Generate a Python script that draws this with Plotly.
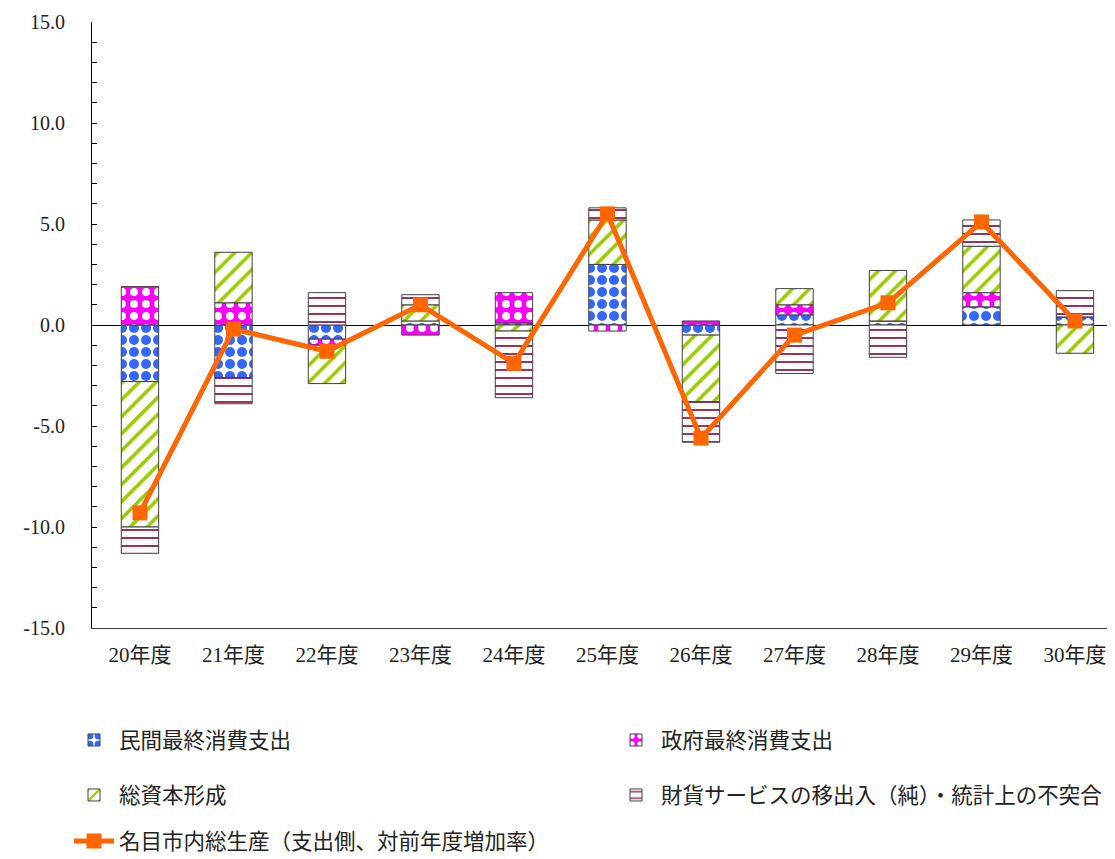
import plotly.graph_objects as go

categories = ["20年度", "21年度", "22年度", "23年度", "24年度", "25年度",
              "26年度", "27年度", "28年度", "29年度", "30年度"]
private_consumption = [-2.8, -2.6, -0.7, 0.2, 0.1, 3.0, -0.5, 0.5, 0.2, 0.9, 0.4]
government_consumption = [1.9, 1.1, -0.3, -0.5, 1.5, -0.3, 0.2, 0.5, 0.0, 0.7, 0.0]
capital_formation = [-7.2, 2.5, -1.9, 0.8, -0.3, 2.2, -3.3, 0.8, 2.5, 2.3, -1.4]
net_exports = [-1.3, -1.3, 1.6, 0.5, -3.3, 0.6, -2.0, -2.4, -1.6, 1.3, 1.3]
gdp_growth = [-9.3, -0.2, -1.3, 1.0, -1.9, 5.5, -5.6, -0.5, 1.1, 5.1, 0.2]

names = ["民間最終消費支出", "政府最終消費支出", "総資本形成",
         "財貨サービスの移出入（純）・統計上の不突合",
         "名目市内総生産（支出側、対前年度増加率）"]

y_ticks = [15, 10, 5, 0, -5, -10, -15]
y_tick_labels = ["15.0", "10.0", "5.0", "0.0", "-5.0", "-10.0", "-15.0"]

fig = go.Figure()
outline = dict(color="#404040", width=1)
patterns = [
    dict(shape=".", fgcolor="#3366FF", bgcolor="white", size=12, solidity=0.55, fillmode="replace"),
    dict(shape=".", fgcolor="white", bgcolor="#FF00FF", size=12, solidity=0.35, fillmode="replace"),
    dict(shape="/", fgcolor="#99CC00", bgcolor="white", size=12, solidity=0.3, fillmode="replace"),
    dict(shape="-", fgcolor="#993366", bgcolor="white", size=8, solidity=0.25, fillmode="replace"),
]
series = [private_consumption, government_consumption, capital_formation, net_exports]
legend_ids = ["legend", "legend2", "legend3", "legend4"]
for i, vals in enumerate(series):
    fig.add_trace(go.Bar(
        x=categories, y=vals, name=names[i], width=0.4,
        marker=dict(color="white", pattern=patterns[i], line=outline),
        legend=legend_ids[i],
    ))

fig.add_trace(go.Scatter(
    x=categories, y=gdp_growth, name=names[4], mode="lines+markers",
    line=dict(color="#FF6600", width=5),
    marker=dict(symbol="square", size=15, color="#FF6600"),
    legend="legend5",
))

legfont = dict(family="Noto Sans CJK JP", size=21.5, color="#222")
def leg(x, y):
    return dict(x=x, y=y, xanchor="left", yanchor="middle", font=legfont,
                bgcolor="rgba(0,0,0,0)", itemwidth=40)

# page has an 8px body margin; plot area should sit at x 92..1115, y 22..628 on screen
OFF = 8
def px_x(p):
    return (p - 92) / 1023.0

def px_y(p):
    return (628 - p) / 606.0

fig.update_layout(
    width=1115 - OFF, height=859 - OFF,
    paper_bgcolor="white", plot_bgcolor="white",
    barmode="relative", bargap=0.6,
    showlegend=True,
    margin=dict(l=92 - OFF, r=0, t=22 - OFF, b=231, autoexpand=False),
    font=dict(family="Liberation Serif", size=18, color="#222"),
    legend=leg(px_x(69), px_y(740)),
    legend2=leg(px_x(611), px_y(740)),
    legend3=leg(px_x(69), px_y(795)),
    legend4=leg(px_x(611), px_y(795)),
    legend5=leg(px_x(69), px_y(841)),
    xaxis=dict(range=[-0.513, 10.428], showline=True, linecolor="#404040", linewidth=1,
               ticks="", showgrid=False, automargin=False, ticklabelstandoff=8,
               tickfont=dict(family="Liberation Serif, Noto Sans CJK JP", size=21)),
    yaxis=dict(range=[-15, 15], tickvals=y_ticks, ticktext=y_tick_labels,
               showline=True, linecolor="black", linewidth=1,
               ticks="inside", ticklen=5, tickcolor="black",
               minor=dict(dtick=1, ticks="inside", ticklen=5, tickcolor="black"),
               showgrid=False, zeroline=True, zerolinecolor="black", zerolinewidth=1,
               ticklabelstandoff=22, automargin=False,
               tickfont=dict(family="Liberation Serif", size=20)),
)

fig.write_html("out.html")
